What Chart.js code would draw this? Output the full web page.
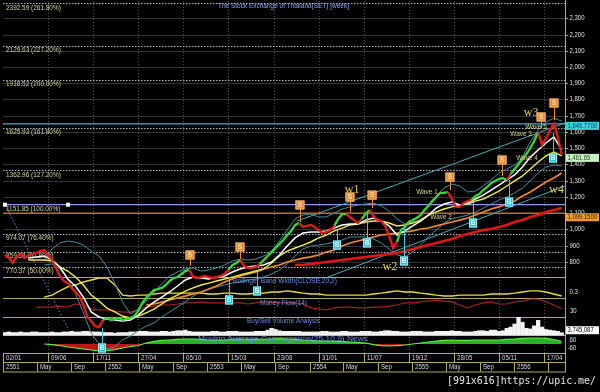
<!DOCTYPE html>
<html>
<head>
<meta charset="utf-8">
<script src="https://cdn.jsdelivr.net/npm/chart.js@4.4.1/dist/chart.umd.min.js"></script>
<style>
html,body{margin:0;padding:0;background:#000;overflow:hidden;}
canvas{display:block;}
</style>
</head>
<body>
<canvas id="chart" width="600" height="392"></canvas>
<script>
// ================= DATA =================
// x unit = weeks since 02/01/2008 (first weekly bar)
const PRICE_START_WEEK = 1, PRICE_STEP = 2;
const priceValues = [
  842,823,793,830,848,823,842,848,854,866,873,842,811,762,713,682,669,639,614,589,534,460,435,404,398,
  441,454,441,448,454,441,448,454,466,497,546,577,602,626,632,639,657,682,700,706,725,743,750,706,700,
  706,713,706,700,706,713,725,750,780,793,811,774,762,762,768,787,811,836,860,885,910,934,965,990,1027,
  1039,1014,1021,1027,1014,996,977,984,996,1021,1064,1094,1094,1076,1057,1039,1064,1094,1119,1082,1057,1051,1021,959,885,
  922,996,1014,1045,1057,1070,1088,1119,1144,1174,1199,1224,1224,1230,1187,1138,1138,1162,1174,1181,1205,1218,1242,1261,1285,
  1298,1310,1316,1304,1341,1372,1402,1433,1464,1501,1544,1600,1520,1560,1610,1650,1570,1461.65
];
// week ranges where the price bars are drawn green (up-trend)
const upTrendWeeks = [[50,95],[114,121],[131,151],[168,175],[182,187],[201,227],[238,256],[259,273]];

const MA_START_WEEK = 13, MA_STEP = 4;
const maWhiteValues = [
  823,830,836,811,768,694,651,583,491,460,
  448,441,435,441,472,515,552,583,614,651,
  688,706,700,694,706,713,737,756,768,774,
  780,799,842,897,947,977,984,984,990,1008,
  1027,1033,1033,1057,1070,1051,1021,965,990,1021,
  1051,1088,1131,1156,1168,1150,1162,1187,1211,1242,
  1273,1304,1335,1384,1445,1489,1532,1569,1489
];
const maYellowValues = [
  811,811,811,805,768,743,706,657,595,558,
  515,491,466,454,466,485,509,540,571,595,
  620,639,657,669,682,694,706,719,731,743,
  756,793,836,866,885,903,922,947,965,990,
  1008,1027,1033,1045,1051,1051,1039,1021,1027,1039,
  1057,1088,1107,1125,1138,1150,1156,1174,1187,1211,
  1236,1267,1298,1329,1372,1415,1452,1476,1452
];
const ORANGE_START_WEEK = 73;
const maOrangeValues = [
  534,540,552,565,577,589,602,614,632,651,
  676,694,713,725,737,756,768,780,799,811,
  823,830,842,860,873,897,916,928,940,953,
  965,971,977,984,990,1002,1008,1021,1033,1045,
  1057,1070,1088,1107,1125,1138,1156,1174,1205,1230,
  1261,1292,1316,1347
];
const RED_START_WEEK = 149;
const maRedValues = [
  780,780,787,793,799,805,811,817,823,830,
  836,842,848,854,866,879,891,903,916,928,
  940,959,971,984,996,1002,1014,1027,1045,1057,
  1076,1088,1107,1119,1131
];
const BB_START_WEEK = 21;
const bbUpperValues = [
  805,879,916,928,922,903,866,836,768,669,
  552,479,509,558,614,663,713,737,756,762,
  743,750,762,780,805,817,811,817,836,866,
  928,996,1064,1088,1094,1076,1076,1101,1125,1138,
  1150,1156,1162,1144,1113,1064,1033,1045,1088,1150,
  1205,1255,1279,1267,1230,1236,1267,1304,1347,1372,
  1396,1445,1538,1612,1661,1685,1667
];
const bbLowerValues = [
  780,787,756,700,602,485,361,294,263,276,
  318,343,374,404,423,460,491,522,552,589,
  614,632,645,657,669,676,688,694,706,725,
  750,787,836,879,897,903,910,922,934,953,
  953,953,940,916,879,842,830,860,903,953,
  996,1039,1064,1076,1088,1107,1131,1156,1181,1199,
  1224,1255,1298,1347,1384,1396,1390
];
const bbWidthValues = [
  0.12,0.19,0.34,0.48,0.55,0.65,0.72,0.79,0.79,0.55,
  0.19,0.16,0.19,0.19,0.23,0.26,0.26,0.26,0.26,0.26,
  0.26,0.23,0.23,0.26,0.26,0.23,0.23,0.26,0.26,0.30,
  0.30,0.34,0.30,0.26,0.23,0.23,0.19,0.19,0.19,0.19,
  0.19,0.19,0.23,0.26,0.30,0.34,0.30,0.30,0.26,0.23,
  0.19,0.16,0.16,0.19,0.19,0.19,0.19,0.23,0.23,0.23,
  0.26,0.30,0.34,0.34,0.30,0.23,0.16
];
const MF_START_WEEK = 17;
const moneyFlowValues = [
  45,45,45,49,45,57,53,38,34,34,
  30,26,26,34,45,49,53,53,57,61,
  61,65,61,61,61,61,61,57,61,65,
  65,61,61,61,57,42,38,34,42,45,
  45,42,42,45,45,49,53,61,61,65,
  68,72,68,65,53,42,53,61,65,57,
  57,65,68,76,76,65,53,38
];
const VOL_START_WEEK = 1, VOL_STEP = 2;   // volume in millions
const volumeMillions = [
  4,5,4,4,5,4,4,5,5,4,4,4,5,4,4,5,5,6,5,5,6,6,5,5,5,
  4,4,4,3,4,4,4,5,5,6,6,6,5,5,5,6,6,5,6,7,7,8,6,5,5,
  5,5,5,6,6,5,5,6,6,6,5,5,5,5,6,6,6,8,11,9,7,6,6,6,6,
  6,5,5,5,5,5,6,6,5,5,5,6,6,5,5,5,6,6,6,5,5,6,7,7,6,
  6,5,5,5,6,6,6,5,5,5,6,6,6,6,7,6,6,5,5,5,6,7,7,6,8,
  8,6,7,11,13,18,29,21,11,10,15,24,13,9,8,7,6,3.745087
];
const MACD_START_WEEK = 21;
const macdValues = [
  0,-8,-23,-45,-60,-75,-90,-105,-98,-83,
  -60,-38,-23,15,38,53,60,68,75,75,
  68,60,60,60,68,75,68,68,75,75,
  83,75,68,60,53,45,45,38,38,30,
  23,15,-8,-23,-30,-23,-15,0,15,30,
  45,53,60,53,53,60,60,60,60,68,
  75,83,90,90,83,68,38
];

// tick labels
const priceTicks = [2300,2200,2100,2000,1900,1800,1700,1600,1500,1400,1300,1200,1100,1000,900,800];
const fibLevels = [2392.59,2129.63,1918.52,1625.93,1362.96,1151.85,974.07,859.58,770.37];
const fibLabels = ['2392.59 (261.80%)','2129.63 (227.20%)','1918.52 (200.00%)','1625.93 (161.80%)','1362.96 (127.20%)','1151.85 (100.00%)','974.07 (76.40%)','859.58 (61.80%)','770.37 (50.00%)'];
const FIB_BASE = 1151.85, FIB_ZERO = 388.89;
const fibHandleWeeks = [1, 33.2];
const maxLevel = 1649.77, supportLevel = 1099.15;
const dateTickDates = ['2008-01-02','2008-06-09','2008-11-17','2009-04-27','2009-10-05','2010-03-15','2010-08-23','2011-01-31','2011-07-11','2011-12-19','2012-05-28','2012-11-05','2013-04-17'];
const dateTickLabels = ['02/01','09/06','17/11','27/04','05/10','15/03','23/08','31/01','11/07','19/12','28/05','05/11','17/04'];
const monthDates = ['2008-01-01','2008-05-01','2008-09-01','2009-01-01','2009-05-01','2009-09-01','2010-01-01','2010-05-01','2010-09-01','2011-01-01','2011-05-01','2011-09-01','2012-01-01','2012-05-01','2012-09-01','2013-01-01','2013-05-01'];
const monthLabels = ['2551','May','Sep','2552','May','Sep','2553','May','Sep','2554','May','Sep','2555','May','Sep','2556',''];

// trend channel lines (week, value)
const channelUpperWeeks = [150, 286.7], channelUpperValues = [1051, 1655];
const channelLowerWeeks = [165.8, 286.7], channelLowerValues = [706, 1267];

// buy / sell signal markers
const sellWeeks = [95.4,120.9,151.5,177,188.3,228,254.6,274.5,281.1];
const sellBoxValues = [842,891,1150,1199,1211,1322,1427,1692,1778];
const sellStemValues = [774,817,1045,1107,1131,1242,1329,1624,1673];
const buyWeeks = [50.5,115.3,129.6,170.4,185.7,204.6,239.8,258.2,280.6];
const buyBoxValues = [269,565,620,903,916,805,1039,1168,1439];
const buyStemValues = [392,706,737,996,1094,1014,1168,1304,1593];

// Elliott wave annotations
const waveTexts = ['Wave 1','Wave 2','Wave 3','Wave 4','Wave 5'];
const waveWeeks = [216.3,223.5,264.3,267.3,271.9];
const waveValues = [1230,1076,1587,1439,1630];
const wTexts = ['w1','w2','w3','w4'];
const wWeeks = [178.1,197.4,269.4,282.4];
const wValues = [1242,768,1716,1242];

// ================= LAYOUT / STYLE =================
const AREA = {left:3, right:565, top:1, bottom:353};
const FONT = '"Liberation Sans", Arial, sans-serif';
const GREEN = '#36d836', RED = '#e81a1a';
const KHAKI = '#b3aa6c';

function bandScale(v1, y1, v2, y2){
  const k = (v1 - v2) / (y2 - y1);
  return {min: v2 - (AREA.bottom - y2) * k, max: v1 + (y1 - AREA.top) * k};
}
const W0 = Date.UTC(2008,0,2);
function weekOf(s){ const p = s.split('-').map(Number); return (Date.UTC(p[0],p[1]-1,p[2]) - W0) / (7*864e5); }
function isUp(w){ return upTrendWeeks.some(r => w >= r[0] && w < r[1]); }
const pts = (start, step, arr) => arr.map((v,i) => ({x: start + i*step, y: v}));
const fmt = v => v.toLocaleString('en-US');

function txt(c, s, x, y, size, color, o){
  o = o || {};
  c.save();
  c.font = (o.weight ? o.weight + ' ' : '') + size + 'px ' + (o.family || FONT);
  c.fillStyle = color; c.textBaseline = 'middle'; c.textAlign = 'left';
  const mw = c.measureText(s).width;
  let sx = o.sx || 1;
  if (o.width) sx = o.width / mw;
  const w = mw * sx;
  let x0 = x;
  if (o.align === 'center') x0 = x - w/2; else if (o.align === 'right') x0 = x - w;
  c.translate(x0, y); c.scale(sx, 1); c.fillText(s, 0, 0);
  c.restore();
}
function hline(c, x1, x2, y){ c.beginPath(); c.moveTo(x1, y); c.lineTo(x2, y); c.stroke(); }
function vline(c, x, y1, y2){ c.beginPath(); c.moveTo(x, y1); c.lineTo(x, y2); c.stroke(); }

const bgPlugin = {
  id: 'bgPlugin',
  beforeDraw(chart){
    const c = chart.ctx; c.save(); c.fillStyle = '#000'; c.fillRect(0,0,chart.width,chart.height); c.restore();
  },
  beforeDatasetsDraw(chart){
    const c = chart.ctx, xs = chart.scales.x, ys = chart.scales.y, a = chart.chartArea;
    c.save();
    c.lineWidth = 1;
    c.strokeStyle = '#343434';
    priceTicks.forEach(v => hline(c, a.left, a.right, Math.round(ys.getPixelForValue(v)) + 0.5));
    c.strokeStyle = '#505050'; c.setLineDash([1,2]);
    dateTickDates.slice(1).forEach(d => vline(c, Math.round(xs.getPixelForValue(Math.round(weekOf(d)))) + 0.5, a.top, a.bottom));
    c.strokeStyle = '#b8b8b8'; c.setLineDash([1.5,1.5]);
    fibLevels.forEach(v => { if (v !== FIB_BASE) hline(c, a.left, a.right, Math.round(ys.getPixelForValue(v)) + 0.5); });
    c.strokeStyle = '#7f86e0'; c.setLineDash([1.5,2]);
    c.beginPath();
    c.moveTo(xs.getPixelForValue(fibHandleWeeks[0]), ys.getPixelForValue(FIB_BASE));
    c.lineTo(xs.getPixelForValue(fibHandleWeeks[1]), ys.getPixelForValue(FIB_ZERO));
    c.stroke();
    c.setLineDash([]);
    c.strokeStyle = '#35b6c2'; c.lineWidth = 1.4;
    hline(c, a.left, a.right, ys.getPixelForValue(maxLevel));
    c.strokeStyle = '#8f96f6'; c.lineWidth = 1.3;
    hline(c, a.left, a.right, ys.getPixelForValue(FIB_BASE));
    c.strokeStyle = '#c8691e'; c.lineWidth = 1.3;
    hline(c, a.left, a.right, ys.getPixelForValue(supportLevel));
    fibLevels.forEach((v,i) => txt(c, fibLabels[i], 6, ys.getPixelForValue(v) + 4.3, 7, '#d8d49c', {sx:0.92}));
    c.strokeStyle = KHAKI; c.lineWidth = 1;
    [277, 297.7, 316.7, 335].forEach(y => hline(c, a.left, a.right, Math.round(y) + 0.5));
    c.restore();
  }
};

const overlayPlugin = {
  id: 'overlayPlugin',
  afterDatasetsDraw(chart){
    const c = chart.ctx, xs = chart.scales.x, ys = chart.scales.y, a = chart.chartArea;
    c.save();
    c.fillStyle = '#ffffff';
    fibHandleWeeks.forEach(w => { const x = xs.getPixelForValue(w), y = ys.getPixelForValue(FIB_BASE); c.fillRect(x-2, y-2, 4, 4); });
    sellWeeks.forEach((w,i) => {
      const x = xs.getPixelForValue(w), y = ys.getPixelForValue(sellBoxValues[i]), ye = ys.getPixelForValue(sellStemValues[i]);
      c.strokeStyle = '#e8892a'; c.lineWidth = 1;
      vline(c, Math.round(x)+0.5, y+4, ye);
      c.fillStyle = '#e8892a'; c.fillRect(x-4.5, y-4.5, 9, 9);
      c.strokeStyle = '#f6b56a'; c.strokeRect(x-4, y-4, 8, 8);
      txt(c, 'S', x, y+0.5, 6.5, '#fde2bd', {align:'center', weight:'bold'});
    });
    buyWeeks.forEach((w,i) => {
      const x = xs.getPixelForValue(w), y = ys.getPixelForValue(buyBoxValues[i]), ye = ys.getPixelForValue(buyStemValues[i]);
      c.strokeStyle = '#38cde0'; c.lineWidth = 1;
      vline(c, Math.round(x)+0.5, ye, y-4);
      c.fillStyle = '#2cc4d6'; c.fillRect(x-4, y-4.5, 8, 9);
      c.strokeStyle = '#8ff0ff'; c.strokeRect(x-3.5, y-4, 7, 8);
      txt(c, 'B', x, y+0.5, 6.5, '#e9ffff', {align:'center', weight:'bold'});
    });
    waveTexts.forEach((t,i) => txt(c, t, xs.getPixelForValue(waveWeeks[i]), ys.getPixelForValue(waveValues[i]), 7, '#d9d18c', {align:'center', sx:0.92}));
    wTexts.forEach((t,i) => txt(c, t, xs.getPixelForValue(wWeeks[i]), ys.getPixelForValue(wValues[i]), 12, '#dccb62', {align:'center', family:'"Liberation Serif", "Times New Roman", serif'}));
    txt(c, 'The Stock Exchange of Thailand(SET) [week]', 218, 6.5, 7, '#86a8f0', {width:131});
    txt(c, 'Bollinger Band Width(CLOSE,20,2)', 233, 281.5, 7, '#6b8fe0', {width:104});
    txt(c, 'Money Flow(14)', 260, 302.7, 7, '#6b8fe0', {width:47});
    txt(c, 'Buy/Sell Volume Analysis', 247, 321.2, 7, '#6b8fe0', {width:73});
    txt(c, 'Moving Average Convergence(25,10,9) News', 198, 339.4, 7, '#6b8fe0', {width:170});

    c.strokeStyle = KHAKI; c.lineWidth = 1;
    vline(c, a.right + 0.5, 0, 371.5);
    priceTicks.forEach(v => {
      const y = Math.round(ys.getPixelForValue(v)) + 0.5;
      hline(c, a.right, a.right + 3, y);
      txt(c, fmt(v), 569.5, y, 7, '#e2e2e2', {sx:0.86});
    });
    const yb = chart.scales.yBbw, ym = chart.scales.yMf, yq = chart.scales.yMacd, yv = chart.scales.yVol;
    txt(c, '0.3', 569.5, yb.getPixelForValue(0.3), 7, '#e2e2e2', {sx:0.86});
    txt(c, '30', 570, ym.getPixelForValue(30), 7, '#e2e2e2', {sx:0.86});
    txt(c, '60', 569.5, yq.getPixelForValue(60), 7, '#e2e2e2', {sx:0.86});
    txt(c, '-60', 567.5, yq.getPixelForValue(-60), 7, '#e2e2e2', {sx:0.86});

    const box = (label, top, bg, fg) => { c.fillStyle = bg; c.fillRect(a.right + 1, top, 33, 8); txt(c, label, a.right + 2.5, top + 4.2, 7, fg, {sx:0.84}); };
    box('1,649.7700', ys.getPixelForValue(maxLevel) - 2, '#3fd0e0', '#0b3644');
    box(fmt(priceValues[priceValues.length-1]), ys.getPixelForValue(priceValues[priceValues.length-1]) - 0.5, '#c6f3bf', '#1d3a1a');
    box('1,099.1500', ys.getPixelForValue(supportLevel), '#f29a2e', '#3a1800');
    box(fmt(Math.round(volumeMillions[volumeMillions.length-1]*1e6)), yv.getPixelForValue(volumeMillions[volumeMillions.length-1]) - 6.5, '#ffffff', '#000000');

    const drawRow = (xsList, labels, top, bot) => {
      c.strokeStyle = KHAKI; c.lineWidth = 1;
      c.strokeRect(a.left + 0.5, top + 0.5, a.right - a.left, bot - top);
      xsList.forEach((px, i) => {
        const x = Math.max(a.left, Math.round(px)) + 0.5;
        vline(c, x, top, bot);
        if (labels[i]) txt(c, labels[i], x + 2.5, (top + bot) / 2 + 0.8, 6.8, '#d6d6d6', {sx:0.9});
      });
    };
    drawRow(dateTickDates.map(d => xs.getPixelForValue(Math.round(weekOf(d)))), dateTickLabels, 353, 362);
    drawRow(monthDates.map(d => xs.getPixelForValue(weekOf(d))), monthLabels, 362, 371.5);

    txt(c, '[991x616]https://upic.me/', 447, 381.5, 10, '#e4e4e4', {family:'"DejaVu Sans Mono", monospace', width:149});
    c.restore();
  }
};

const lineDs = (label, data, color, width, axis) => ({label, data, borderColor: color, borderWidth: width, pointRadius: 0, fill: false, yAxisID: axis || 'y', tension: 0});

new Chart(document.getElementById('chart'), {
  type: 'line',
  data: {
    datasets: [
      Object.assign(lineDs('SET weekly', pts(PRICE_START_WEEK, PRICE_STEP, priceValues), RED, 2.3), {
        segment: {borderColor: ctx => isUp(ctx.p0.parsed.x) ? GREEN : RED}
      }),
      lineDs('MA white', pts(MA_START_WEEK, MA_STEP, maWhiteValues), '#ffffff', 1.5),
      lineDs('MA yellow', pts(MA_START_WEEK, MA_STEP, maYellowValues), '#f2ee3c', 1.4),
      lineDs('MA orange', pts(ORANGE_START_WEEK, MA_STEP, maOrangeValues), '#f08a26', 1.7),
      lineDs('MA red', pts(RED_START_WEEK, MA_STEP, maRedValues), '#e01616', 2.6),
      lineDs('BB upper', pts(BB_START_WEEK, MA_STEP, bbUpperValues), '#3f8ea0', 1),
      lineDs('BB lower', pts(BB_START_WEEK, MA_STEP, bbLowerValues), '#3f8ea0', 1),
      lineDs('Channel upper', channelUpperWeeks.map((w,i) => ({x:w, y:channelUpperValues[i]})), '#4aaab8', 1),
      lineDs('Channel lower', channelLowerWeeks.map((w,i) => ({x:w, y:channelLowerValues[i]})), '#4aaab8', 1),
      lineDs('BB width', pts(BB_START_WEEK, MA_STEP, bbWidthValues), '#e6de3e', 1.4, 'yBbw'),
      lineDs('Money Flow', pts(MF_START_WEEK, MA_STEP, moneyFlowValues), '#a32222', 1.2, 'yMf'),
      {type: 'bar', label: 'Volume', data: pts(VOL_START_WEEK, VOL_STEP, volumeMillions), backgroundColor: '#f4f4f4', borderWidth: 0, barThickness: 3.7, yAxisID: 'yVol'},
      Object.assign(lineDs('MACD', pts(MACD_START_WEEK, MA_STEP, macdValues), '#62f040', 1.2, 'yMacd'), {
        fill: {target: {value: 0}, above: 'rgba(44,196,44,0.9)', below: 'rgba(200,22,22,0.95)'}
      })
    ]
  },
  options: {
    responsive: false,
    animation: false,
    devicePixelRatio: 1,
    layout: {padding: {left: AREA.left, right: 600 - AREA.right, top: AREA.top, bottom: 392 - AREA.bottom}},
    plugins: {legend: {display: false}, tooltip: {enabled: false}, title: {display: false}},
    elements: {point: {radius: 0}},
    scales: {
      x: {type: 'linear', min: 0, max: 286.7, display: false, offset: false},
      y: Object.assign({display: false}, bandScale(2300, 18.3, 800, 261.8)),
      yBbw: Object.assign({display: false}, bandScale(0.3, 292, 0.1, 297.7)),
      yMf: Object.assign({display: false}, bandScale(80, 298, 30, 311)),
      yVol: Object.assign({display: false}, bandScale(30, 316.7, 0, 335)),
      yMacd: Object.assign({display: false}, bandScale(60, 340, -60, 348))
    }
  },
  plugins: [bgPlugin, overlayPlugin]
});
</script>
</body>
</html>
